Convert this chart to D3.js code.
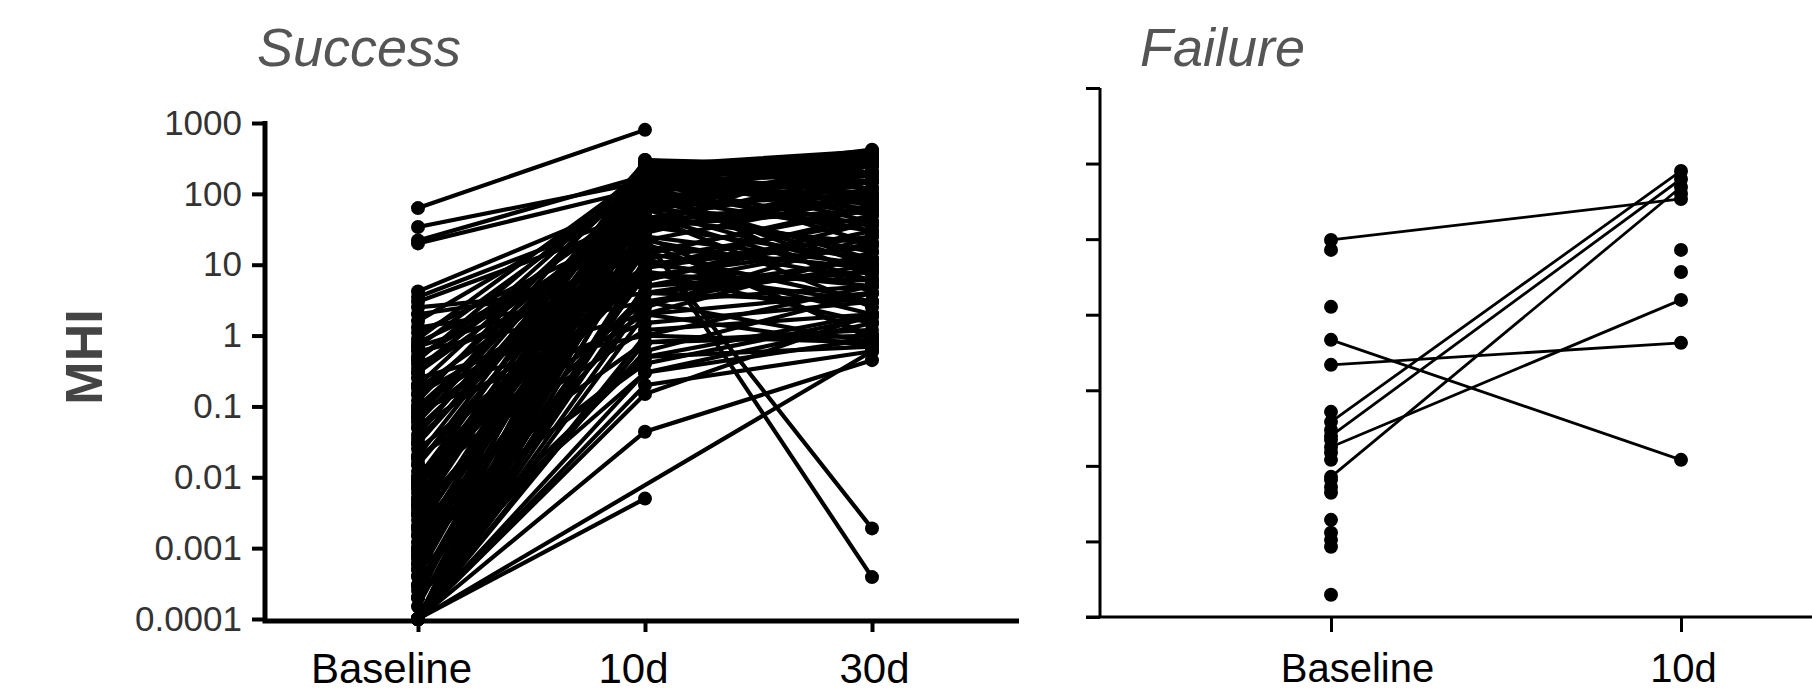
<!DOCTYPE html>
<html>
<head>
<meta charset="utf-8">
<script src="https://cdn.jsdelivr.net/npm/d3@7/dist/d3.min.js"></script>
<style>
  html, body { margin: 0; padding: 0; background: #fff; }
  svg { display: block; }
  text { font-family: "Liberation Sans", Arial, Helvetica, sans-serif; }
</style>
</head>
<body>
<svg id="chart" width="1812" height="692"></svg>
<script>
// ---------------- DATA ----------------
const categoriesSuccess = ["Baseline", "10d", "30d"];
const categoriesFailure = ["Baseline", "10d"];
const yTickValues = [0.0001, 0.001, 0.01, 0.1, 1, 10, 100, 1000];
const yTickLabels = ["0.0001", "0.001", "0.01", "0.1", "1", "10", "100", "1000"];

// Success group: MHI per subject (null = not measured)
const successBaseline = [
  63, 34, 22, 20,
  4.2, 3.5, 3.0, 2.5, 2.0, 1.6, 1.3, 1.1,
  0.9, 0.8, 0.7, 0.6, 0.5, 0.45, 0.4, 0.35, 0.3, 0.25, 0.2, 0.18, 0.15, 0.12, 0.1, 0.09, 0.08, 0.07, 0.06, 0.05,
  0.04, 0.035, 0.03, 0.025, 0.02, 0.018, 0.015, 0.012, 0.01, 0.009, 0.008, 0.007, 0.006, 0.005, 0.0045, 0.004, 0.0035, 0.003, 0.0025, 0.002, 0.0018, 0.0015, 0.0012, 0.001,
  0.0009, 0.0008, 0.0007, 0.0006, 0.0005, 0.0004, 0.0003, 0.00025, 0.0002, 0.00015,
  0.0001, 0.0001, 0.003, 0.0001, 0.0001, 0.0001, 0.0001, 0.0001, 0.0001, 0.0001, 0.0001, 0.0001, 0.0001, 0.0001, 0.0001, 0.0001, 0.0001, 0.0001,
  0.0001, 0.0001, 0.0002, 0.0003, 0.0005, 0.0008, 0.001, 0.0015, 0.002, 0.003, 0.005, 0.007, 0.01, 0.015, 0.02, 0.03, 0.05, 0.07, 0.1, 0.15, 0.2, 0.3, 0.5, 0.7,
  0.0001, 0.0001, 0.0004, 0.002, 0.0006, 0.004, 0.0001, 0.0001, 0.0002, 0.008, 0.0001, 0.0003
];
const success10d = [
  800, 148, 180, 120,
  90, 60, 45, 5, 6, 120, 4, 35,
  200, 25, 150, 3, 80, 230, 12, 100, 60, 2, 180, 30, 9, 250, 70, 1.5, 130, 20, 160, 6,
  200, 50, 110, 8, 240, 15, 90, 1.2, 170, 40, 3, 140, 22, 260, 0.8, 75, 10, 190, 55, 4, 120, 0.5, 230, 18,
  100, 2.5, 150, 28, 0.3, 210, 7, 65, 0.6, 170,
  22, 22, 25, 0.005, null, 0.044, 0.3, 0.15, 1, 5, 40, 120, 0.2, 12, 300, 3, 60, 8,
  200, 90, 250, 35, 140, 15, 260, 45, 180, 9, 110, 70, 30, 220, 2, 160, 50, 280, 14, 95, 1, 210, 40, 7,
  0.8, 2, 0.5, 0.4, 25, 170, 150, 10, 4, 300, 35, 130
];
const success30d = [
  null, 200, 300, 100,
  150, 40, 20, 8, 30, 250, 3, 60,
  100, 10, 300, 5, 200, 150, 2, 400, 8, 4, 50, 120, 25, 350, 15, 3, 80, 1, 250, 40,
  400, 6, 180, 1.5, 300, 60, 10, 2, 120, 200, 0.8, 35, 90, 150, 1.2, 400, 5, 70, 250, 12, 30, 0.7, 200, 9,
  300, 25, 60, 150, 0.9, 250, 18, 100, 4, 350,
  6, 0.0019, 0.00039, null, 0.6, 0.45, 1.5, 2, 5, 20, 80, 150, 0.6, 40, 200, 10, 300, 3,
  100, 30, 400, 12, 200, 3, 300, 150, 20, 50, 7, 250, 100, 40, 15, 350, 2.5, 180, 70, 12, 0.8, 300, 90, 6,
  1, 0.7, 2, 1.8, 0.9, 420, 60, 25, 8, 250, 400, 4
];

// Failure group
const failureBaseline = [
  9.75, 0.465, 0.217, 0.0382, 0.0249, 0.0178, 0.00715,
  7.2, 1.27, 0.0518, 0.0299, 0.0221, 0.0149, 0.012, 0.00653, 0.00527, 0.0044, 0.00193, 0.0013, 0.00105, 0.00085, 0.000197,
  null, null, null
];
const failure10d = [
  34, 0.012, 0.424, 79.8, 62.5, 1.57, 49,
  null, null, null, null, null, null, null, null, null, null, null, null, null, null, null,
  7.2, 3.68, 40
];

// ---------------- DRAW ----------------
const svg = d3.select("#chart");
svg.append("rect").attr("width", 1812).attr("height", 692).attr("fill", "#fff");

function subjects(cats, arrays) {
  return arrays[0].map((_, i) => cats.map((c, k) => ({ cat: c, v: arrays[k][i] })).filter(p => p.v != null));
}

// ---- Success panel ----
const yL = d3.scaleLog().domain([0.0001, 1000]).range([619, 123]);
const xL = d3.scalePoint().domain(categoriesSuccess).range([418, 872]);
const axisXL = 265, axisYL = 621, axisEndL = 1019;

const gL = svg.append("g");
const subsL = subjects(categoriesSuccess, [successBaseline, success10d, success30d]);
const lineL = d3.line().x(d => xL(d.cat)).y(d => yL(d.v));
gL.selectAll("path.sub").data(subsL).join("path")
  .attr("class", "sub").attr("d", lineL)
  .attr("fill", "none").attr("stroke", "#000").attr("stroke-width", 4.2);
gL.selectAll("circle").data(subsL.flat()).join("circle")
  .attr("cx", d => xL(d.cat)).attr("cy", d => yL(d.v)).attr("r", 7).attr("fill", "#000");

// y axis
const yAxisL = d3.axisLeft(yL).tickValues(yTickValues)
  .tickFormat((d, i) => yTickLabels[i]).tickSize(13).tickSizeOuter(0).tickPadding(10);
const gyL = svg.append("g").attr("transform", `translate(${axisXL},0)`).call(yAxisL);
gyL.select(".domain").attr("d", `M0,${yL(1000) - 2}V${axisYL}`).attr("stroke", "#000").attr("stroke-width", 5);
gyL.selectAll(".tick line").attr("stroke", "#000").attr("stroke-width", 4);
gyL.selectAll(".tick text").attr("font-size", 35).attr("fill", "#333");

// x axis
const labelShiftL = { "Baseline": -27, "10d": -12, "30d": 2 };
const xAxisL = d3.axisBottom(xL).tickSize(11).tickSizeOuter(0);
const gxL = svg.append("g").attr("transform", `translate(0,${axisYL})`).call(xAxisL);
gxL.select(".domain").attr("d", `M${axisXL - 2.5},0H${axisEndL}`).attr("stroke", "#000").attr("stroke-width", 5);
gxL.selectAll(".tick line").attr("stroke", "#000").attr("stroke-width", 4);
gxL.selectAll(".tick text").attr("font-size", 42).attr("fill", "#000")
  .attr("y", 62).attr("dy", 0).attr("dx", d => labelShiftL[d]);

svg.append("text").attr("x", 257).attr("y", 66).attr("font-size", 54)
  .attr("font-style", "italic").attr("fill", "#555").text("Success");
svg.append("text").attr("transform", "translate(102,357) rotate(-90)")
  .attr("text-anchor", "middle").attr("font-size", 52).attr("font-weight", "bold")
  .attr("fill", "#444").text("MHI");

// ---- Failure panel ----
const yR = d3.scaleLog().domain([0.0001, 1000]).range([617, 88]);
const xR = d3.scalePoint().domain(categoriesFailure).range([1331, 1681]);
const axisXR = 1100, axisYR = 617;

const gR = svg.append("g");
const subsR = subjects(categoriesFailure, [failureBaseline, failure10d]);
const lineR = d3.line().x(d => xR(d.cat)).y(d => yR(d.v));
gR.selectAll("path.sub").data(subsR.filter(s => s.length > 1)).join("path")
  .attr("class", "sub").attr("d", lineR)
  .attr("fill", "none").attr("stroke", "#000").attr("stroke-width", 2.8);
gR.selectAll("circle").data(subsR.flat()).join("circle")
  .attr("cx", d => xR(d.cat)).attr("cy", d => yR(d.v)).attr("r", 7).attr("fill", "#000");

const yAxisR = d3.axisLeft(yR).tickValues(yTickValues).tickFormat("").tickSize(14).tickSizeOuter(0);
const gyR = svg.append("g").attr("transform", `translate(${axisXR},0)`).call(yAxisR);
gyR.select(".domain").attr("d", `M0,${yR(1000)}V${axisYR}`).attr("stroke", "#000").attr("stroke-width", 3);
gyR.selectAll(".tick line").attr("stroke", "#000").attr("stroke-width", 3);

const labelShiftR = { "Baseline": 26, "10d": 2 };
const xAxisR = d3.axisBottom(xR).tickSize(15).tickSizeOuter(0);
const gxR = svg.append("g").attr("transform", `translate(0,${axisYR})`).call(xAxisR);
gxR.select(".domain").attr("d", `M${axisXR - 14},0H1812`).attr("stroke", "#000").attr("stroke-width", 3);
gxR.selectAll(".tick line").attr("stroke", "#000").attr("stroke-width", 3);
gxR.selectAll(".tick text").attr("font-size", 40).attr("fill", "#000")
  .attr("y", 65).attr("dy", 0).attr("dx", d => labelShiftR[d]);

svg.append("text").attr("x", 1140).attr("y", 66).attr("font-size", 54)
  .attr("font-style", "italic").attr("fill", "#555").text("Failure");
</script>
</body>
</html>
